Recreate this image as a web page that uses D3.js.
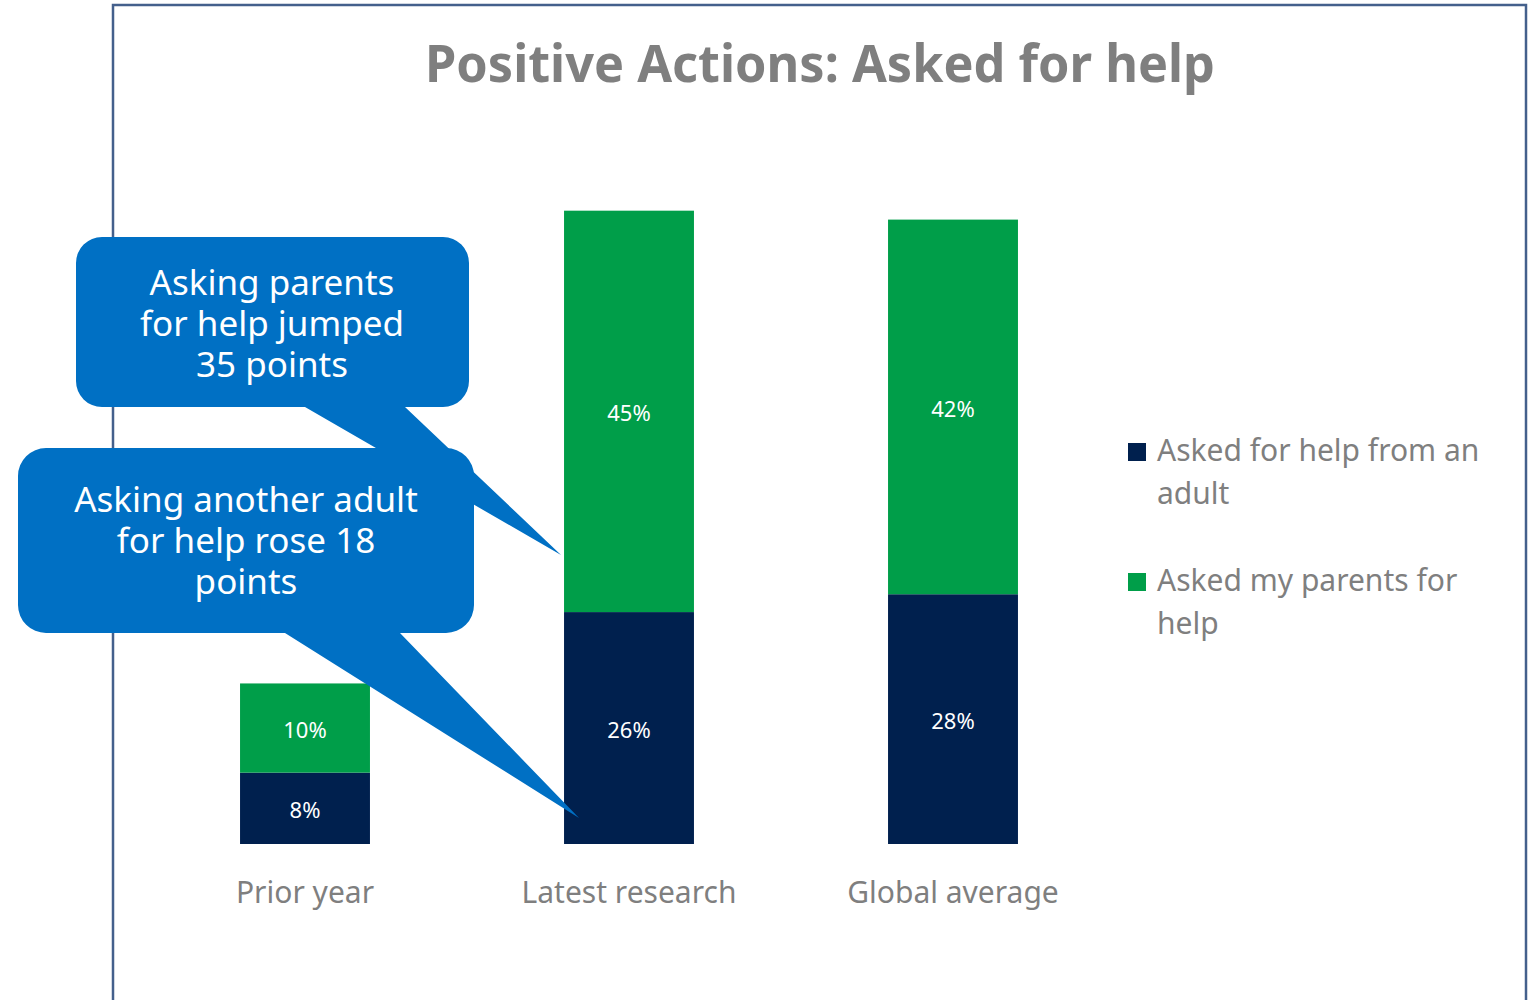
<!DOCTYPE html>
<html><head><meta charset="utf-8">
<script src="https://cdn.jsdelivr.net/npm/d3@7"></script>
<style>
html,body{margin:0;padding:0;background:#fff;}
svg{display:block;}
text{font-family:"Noto Sans","Open Sans",sans-serif;}
</style></head>
<body><svg id="c" width="1532" height="1000"></svg>
<script>
const categories = ["Prior year", "Latest research", "Global average"];
const adultValues = [8, 26, 28];
const parentValues = [10, 45, 42];
const seriesNames = ["Asked for help from an adult", "Asked my parents for help"];
const seriesLegendLines = [["Asked for help from an", "adult"], ["Asked my parents for", "help"]];
const seriesColors = ["#00204e", "#009e49"];
const title = "Positive Actions: Asked for help";
const callouts = [
  {lines: ["Asking parents", "for help jumped", "35 points"]},
  {lines: ["Asking another adult", "for help rose 18", "points"]}
];

const svg = d3.select("#c");

// frame
svg.append("rect").attr("x",113).attr("y",5).attr("width",1413).attr("height",1010)
  .attr("fill","none").attr("stroke","#44608c").attr("stroke-width",2.5);

svg.append("text").attr("x",820).attr("y",82).attr("text-anchor","middle")
  .attr("font-size",52).attr("font-weight","bold").attr("fill","#7f7f7f")
  .attr("textLength",790).attr("lengthAdjust","spacingAndGlyphs")
  .text(title);

const x = d3.scaleBand().domain(categories).range([143,1115]).paddingInner(0.599).paddingOuter(0.2995);
const y = d3.scaleLinear().domain([0,80]).range([844, 844-8.92*80]);

const stackData = categories.map((c,i)=>({cat:c, adult:adultValues[i], parent:parentValues[i]}));
const stack = d3.stack().keys(["adult","parent"])(stackData);

stack.forEach((layer,li)=>{
  const g = svg.append("g");
  g.selectAll("rect").data(layer).join("rect")
    .attr("x", d=>x(d.data.cat)).attr("width", x.bandwidth())
    .attr("y", d=>y(d[1])).attr("height", d=>y(d[0])-y(d[1]))
    .attr("fill", seriesColors[li]);
  g.selectAll("text").data(layer).join("text")
    .attr("x", d=>x(d.data.cat)+x.bandwidth()/2)
    .attr("y", d=>(y(d[0])+y(d[1]))/2 + 10)
    .attr("text-anchor","middle").attr("font-size",22).attr("fill","#ffffff")
    .text(d=>(d[1]-d[0])+"%");
});

// x axis labels
const xAxis = d3.axisBottom(x).tickSize(0).tickPadding(0);
const ax = svg.append("g").attr("transform","translate(0,844)").call(xAxis);
ax.select(".domain").remove();
ax.selectAll("text").attr("font-size",30).attr("fill","#7f7f7f").attr("dy",null).attr("y",59)
  .attr("font-family","'Noto Sans','Open Sans',sans-serif");

// legend
const lg = svg.append("g");
seriesNames.forEach((n,i)=>{
  const top = 443 + i*130;
  lg.append("rect").attr("x",1128).attr("y",top).attr("width",18).attr("height",18).attr("fill",seriesColors[i]);
  const t = lg.append("text").attr("x",1157).attr("y",top+18).attr("font-size",30).attr("fill","#7f7f7f");
  seriesLegendLines[i].forEach((ln,j)=>{
    t.append("tspan").attr("x",1157).attr("dy", j===0?0:43).text(ln);
  });
});

// callouts
function bubble(x0,y0,x1,y1,r,tb1,tb2,tx,ty){
  const p = d3.path();
  p.moveTo(x0+r,y0);
  p.lineTo(x1-r,y0); p.arcTo(x1,y0,x1,y0+r,r);
  p.lineTo(x1,y1-r); p.arcTo(x1,y1,x1-r,y1,r);
  p.lineTo(tb2,y1); p.lineTo(tx,ty); p.lineTo(tb1,y1);
  p.lineTo(x0+r,y1); p.arcTo(x0,y1,x0,y1-r,r);
  p.lineTo(x0,y0+r); p.arcTo(x0,y0,x0+r,y0,r);
  p.closePath();
  return p.toString();
}
const cLatest = x("Latest research");
const shapes = [
  {b:[76,237,469,407,26,305,405,cLatest-3,555], cx:272, base:295},
  {b:[18,448,474,633,28,285,400,cLatest+15,818], cx:246, base:512}
];
shapes.forEach((s,i)=>{
  svg.append("path").attr("d", bubble(...s.b)).attr("fill","#0070c4");
  const t = svg.append("text").attr("x",s.cx).attr("y",s.base).attr("text-anchor","middle")
      .attr("font-size",35).attr("fill","#ffffff");
  callouts[i].lines.forEach((ln,j)=>{
    t.append("tspan").attr("x",s.cx).attr("dy", j===0?0:41).text(ln);
  });
});
</script></body></html>
